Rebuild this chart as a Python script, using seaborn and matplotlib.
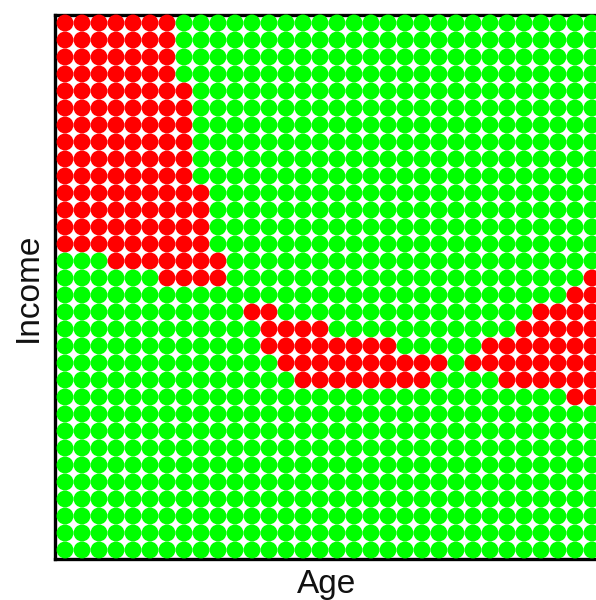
import matplotlib
matplotlib.use("Agg")
import matplotlib.pyplot as plt
import seaborn as sns
import pandas as pd

# Grid of classified points: each string is one income level (top row = highest income),
# each character one age level. 'r' = red class, '.' = green class.
grid_rows = [
    "rrrrrrr. ........ ........ ........",
    "rrrrrrr. ........ ........ ........",
    "rrrrrrr. ........ ........ ........",
    "rrrrrrr. ........ ........ ........",
    "rrrrrrrr ........ ........ ........",
    "rrrrrrrr ........ ........ ........",
    "rrrrrrrr ........ ........ ........",
    "rrrrrrrr ........ ........ ........",
    "rrrrrrrr ........ ........ ........",
    "rrrrrrrr ........ ........ ........",
    "rrrrrrrr r....... ........ ........",
    "rrrrrrrr r....... ........ ........",
    "rrrrrrrr r....... ........ ........",
    "rrrrrrrr r....... ........ ........",
    "...rrrrr rr...... ........ ........",
    "......rr rr...... ........ .......r",
    "........ ........ ........ ......rr",
    "........ ...rr... ........ ....rrrr",
    "........ ....rrrr ........ ...rrrrr",
    "........ ....rrrr rrrr.... .rrrrrrr",
    "........ .....rrr rrrrrrr. rrrrrrrr",
    "........ ......rr rrrrrr.. ..rrrrrr",
    "........ ........ ........ ......rr",
    "........ ........ ........ ........",
    "........ ........ ........ ........",
    "........ ........ ........ ........",
    "........ ........ ........ ........",
    "........ ........ ........ ........",
    "........ ........ ........ ........",
    "........ ........ ........ ........",
    "........ ........ ........ ........",
    "........ ........ ........ ........",
]
class_names = {"r": "red", ".": "green"}
class_colors = {"red": "#ff0000", "green": "#00ff00"}
x_label = "Age"
y_label = "Income"

records = []
n_rows = len(grid_rows)
for j, row in enumerate(grid_rows):
    cells = row.replace(" ", "")
    for i, ch in enumerate(cells):
        records.append({"Age": i, "Income": n_rows - 1 - j, "cls": class_names[ch]})
df = pd.DataFrame(records)

sns.set_style("white")
plt.rcParams["font.family"] = ["Liberation Sans", "DejaVu Sans"]

fig = plt.figure(figsize=(5.96, 6.00), dpi=100)
W, H = 596, 600
left, right, top, bottom = 55, 602, 15, 559
ax = fig.add_axes([left / W, 1 - bottom / H, (right - left) / W, (bottom - top) / H])

sns.scatterplot(data=df, x="Age", y="Income", hue="cls", palette=class_colors,
                s=148, linewidth=0, legend=False, ax=ax, zorder=3, clip_on=False)

ax.set_xlim(-0.59, 31.59)
ax.set_ylim(-0.53, 31.47)
ax.set_xticks([])
ax.set_yticks([])
for sp in ax.spines.values():
    sp.set_visible(True)
    sp.set_color("black")
    sp.set_linewidth(2.4)
    sp.set_zorder(2)

ax.set_xlabel(x_label, fontsize=24, color="#111111")
ax.set_ylabel(y_label, fontsize=24, color="#111111")
ax.xaxis.set_label_coords(0.5 - (328.5 - 327) / 547, -(569 - 559) / 544)
ax.yaxis.set_label_coords(-(55 - 44) / 547, 0.5)

fig.savefig("out.png", dpi=100)
